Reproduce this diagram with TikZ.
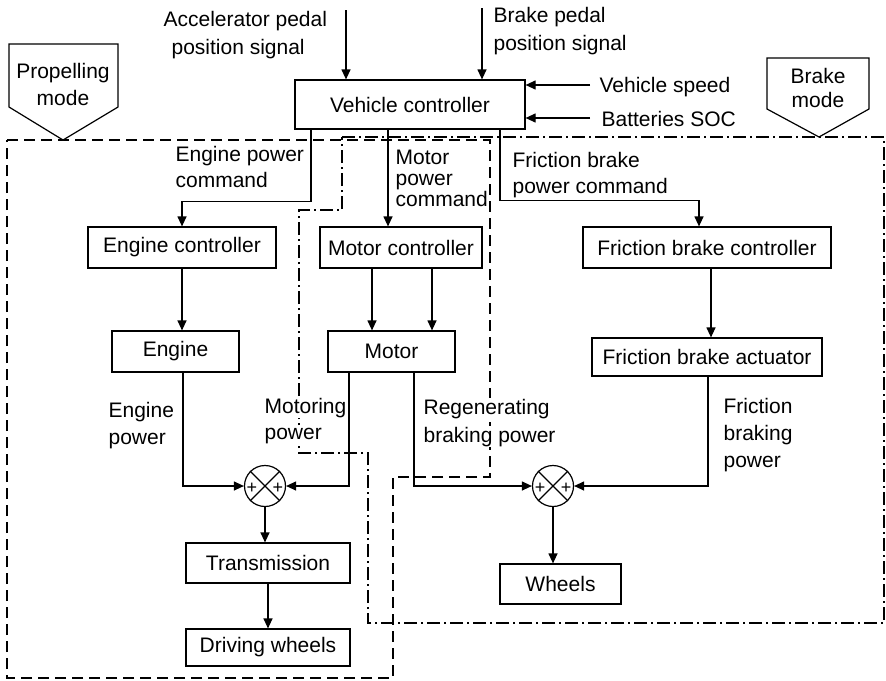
\documentclass[tikz,border=0pt]{standalone}
\usepackage{fontspec}
\setmainfont{Liberation Sans}
\usetikzlibrary{arrows.meta}
\begin{document}
\begin{tikzpicture}[x=1pt,y=-1pt,line width=1.2pt,
  txt/.style={font=\fontsize{21}{25}\selectfont},
  box/.style={draw,fill=white,inner sep=0pt,txt},
  lbl/.style={anchor=base west,inner sep=0pt,txt},
  wlbl/.style={lbl,fill=white,inner sep=1pt},
  clbl/.style={anchor=base,inner sep=0pt,txt},
  arr/.style={-{Triangle[length=10pt,width=9pt]}},
  sumnode/.style={draw,circle,minimum size=41pt,inner sep=0pt},
  plus/.style={inner sep=0pt,font=\fontsize{18}{18}\selectfont},
  dsh/.style={dash pattern=on 11pt off 6pt},
  dshdot/.style={dash pattern=on 13pt off 4pt on 2pt off 4pt}]
\useasboundingbox (0,0) rectangle (886,680);

% mode regions
\draw[dsh] (7,140) -- (490,140) -- (490,477) -- (393,477) -- (393,678) -- (7,678) -- cycle;
\draw[dshdot] (342,137) -- (884,137) -- (884,623) -- (368,623) -- (368,453) -- (299,453) -- (299,210) -- (342,210) -- cycle;

% mode pentagons
\draw[fill=white] (9,44) -- (118,44) -- (118,107) -- (63,140) -- (9,107) -- cycle;
\node[clbl] (pm1) at (63,78) {Propelling};
\node[clbl] (pm2) at (63,105) {mode};
\draw[fill=white] (767,58) -- (869,58) -- (869,109) -- (819,137) -- (767,109) -- cycle;
\node[clbl] (bm1) at (818,83) {Brake};
\node[clbl] (bm2) at (818,107) {mode};

% boxes
\node[box,minimum width=230pt,minimum height=49pt] (vc) at (410,104.5) {Vehicle controller};
\node[box,minimum width=188pt,minimum height=41pt] (ec) at (182,247.5) {Engine controller};
\node[box,minimum width=162pt,minimum height=41pt] (mc) at (401,247.5) {Motor controller};
\node[box,minimum width=248pt,minimum height=41pt] (fbc) at (707,247.5) {Friction brake controller};
\node[box,minimum width=127pt,minimum height=41pt] (en) at (175.5,351.5) {Engine};
\node[box,minimum width=127pt,minimum height=41pt] (mo) at (391.5,351.5) {Motor};
\node[box,minimum width=230pt,minimum height=38pt] (fba) at (707,357) {Friction brake actuator};
\node[box,minimum width=164pt,minimum height=40pt] (tr) at (268,563) {Transmission};
\node[box,minimum width=164pt,minimum height=37pt] (dw) at (268,647.5) {Driving wheels};
\node[box,minimum width=121pt,minimum height=40pt] (wh) at (560.5,584) {Wheels};

% summing junctions
\node[sumnode] (s1) at (265,486) {};
\node[sumnode] (s2) at (553,486) {};
\foreach \s in {s1,s2}{
  \draw (\s.north west) -- (\s.south east) (\s.north east) -- (\s.south west);
  \node[plus] at ([xshift=-13pt,yshift=-2pt]\s.center) {+};
  \node[plus] at ([xshift=13pt,yshift=-2pt]\s.center) {+};
}

% inputs to vehicle controller
\coordinate (acc) at (346,10);
\coordinate (brk) at (482,8);
\coordinate (spd) at (590,85);
\coordinate (soc) at (590,118);
\draw[arr] (acc) -- (acc |- vc.north);
\draw[arr] (brk) -- (brk |- vc.north);
\draw[arr] (spd) -- (spd -| vc.east);
\draw[arr] (soc) -- (soc -| vc.east);
\node[lbl] (t1) at (163,27) {Accelerator pedal};
\node[lbl] (t2) at (171,54) {position signal};
\node[lbl] (t3) at (493,23) {Brake pedal};
\node[lbl] (t4) at (493,50) {position signal};
\node[lbl] (t5) at (599,92.5) {Vehicle speed};
\node[lbl] (t6) at (601,126) {Batteries SOC};

% commands
\draw[arr] ([xshift=-99pt]vc.south) -- ++(0,72) -| (ec.north);
\draw[arr] ([xshift=-22pt]vc.south) -- ([xshift=-22pt]vc.south |- mc.north);
\draw[arr] ([xshift=90pt]vc.south) -- ++(0,71) -| ([xshift=-8pt]fbc.north);
\node[lbl] (t7) at (175,161) {Engine power};
\node[lbl] (t8) at (175,187) {command};
\node[lbl] (t9) at (395,164) {Motor};
\node[lbl] (t10) at (395,185) {power};
\node[lbl] (t11) at (395,206) {command};
\node[lbl] (t12) at (512,167) {Friction brake};
\node[lbl] (t13) at (512,193) {power command};

% controller to actuator
\draw[arr] (ec.south) -- (ec.south |- en.north);
\draw[arr] ([xshift=-29pt]mc.south) -- ([xshift=-29pt]mc.south |- mo.north);
\draw[arr] ([xshift=31pt]mc.south) -- ([xshift=31pt]mc.south |- mo.north);
\draw[arr] ([xshift=4pt]fbc.south) -- ([xshift=4pt]fbc.south |- fba.north);

% power flows
\draw[arr] ([xshift=7.5pt]en.south) |- (s1.west);
\draw[arr] ([xshift=-42.5pt]mo.south) |- (s1.east);
\draw[arr] ([xshift=22.5pt]mo.south) |- (s2.west);
\draw[arr] ([xshift=1pt]fba.south) |- (s2.east);
\draw[arr] (s1.south) -- (s1.south |- tr.north);
\draw[arr] (tr.south) -- (dw.north);
\draw[arr] (s2.south) -- (s2.south |- wh.north);

\node[lbl] (t14) at (108,417) {Engine};
\node[lbl] (t15) at (108,444) {power};
\node[wlbl] (t16) at (263,413) {Motoring};
\node[wlbl] (t17) at (263,439) {power};
\node[wlbl] (t18) at (422,414) {Regenerating};
\node[wlbl] (t19) at (422,442) {braking power};
\node[lbl] (t20) at (723,413) {Friction};
\node[lbl] (t21) at (723,440) {braking};
\node[lbl] (t22) at (723,467) {power};
\end{tikzpicture}
\end{document}
